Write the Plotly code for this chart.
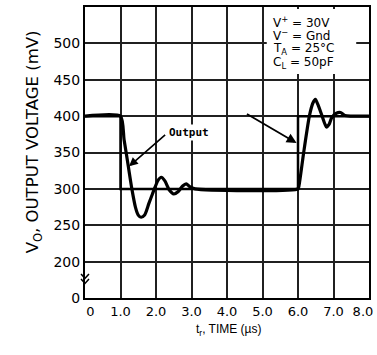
import plotly.graph_objects as go

# ---- data ----
input_t = [0, 1.0, 1.0, 6.0, 6.0, 8.0]
input_v = [400, 400, 300, 300, 400, 400]

output_t = [0, 1.0, 1.1, 1.22, 1.32, 1.42, 1.5, 1.58, 1.68, 1.8, 1.9, 1.97, 2.06, 2.15,
            2.25, 2.38, 2.5, 2.62, 2.75, 2.85, 2.95, 3.1, 6.0, 6.03, 6.16, 6.32, 6.42,
            6.49, 6.56, 6.68, 6.8, 6.88, 6.95, 7.08, 7.2, 7.32, 8.0]
output_v = [400, 400, 368, 331, 300, 275, 264, 261, 264, 280, 293, 302, 312, 316,
            311, 298, 293, 296, 304, 307, 303, 300, 300, 305, 350, 400, 418,
            423, 416, 400, 385, 389, 398, 404, 405, 401, 400]

x_tick_labels = ["0", "1.0", "2.0", "3.0", "4.0", "5.0", "6.0", "7.0", "8.0"]
y_tick_vals = [150, 200, 250, 300, 350, 400, 450, 500, 550]
y_tick_labels = ["0", "200", "250", "300", "350", "400", "450", "500", "550"]

conditions = ["V<sup>+</sup> = 30V", "V<sup>−</sup> = Gnd",
              "T<sub>A</sub> = 25°C", "C<sub>L</sub> = 50pF"]

# ---- figure ----
fig = go.Figure()
fig.add_trace(go.Scatter(x=input_t, y=input_v, mode="lines",
                         line=dict(color="black", width=2.5), hoverinfo="skip"))
fig.add_trace(go.Scatter(x=output_t, y=output_v, mode="lines",
                         line=dict(color="black", width=3.2, shape="spline", smoothing=0.6),
                         hoverinfo="skip"))

# tick label positions: integer grid, first/last nudged inward like the original
x_grid = list(range(len(x_tick_labels)))
x_tick_pos = [p + (0.15 if i == 0 else 0) - (0.17 if i == len(x_grid) - 1 else 0)
              for i, p in enumerate(x_grid)]

grid_col = "#202020"
fig.update_xaxes(range=[0, 8], tickvals=x_tick_pos, ticktext=x_tick_labels,
                 showgrid=False, ticks="", showline=True, mirror=True,
                 linecolor="black", linewidth=2, zeroline=False,
                 tickfont=dict(family="DejaVu Sans", size=13, color="black"),
                 minor=dict(tick0=0, dtick=1, showgrid=True, gridcolor=grid_col,
                            gridwidth=2, ticks=""))
fig.update_yaxes(range=[150, 550], tickvals=y_tick_vals, ticktext=y_tick_labels,
                 showgrid=True, gridcolor=grid_col, gridwidth=2,
                 ticks="", showline=True, mirror=True, linecolor="black", linewidth=2,
                 zeroline=False,
                 tickfont=dict(family="DejaVu Sans", size=14, color="black"))

anns = []
# axis titles
anns.append(dict(xref="paper", yref="paper", x=-0.226, y=0.536, showarrow=False,
                 textangle=-90, text="V<sub>O</sub>, OUTPUT VOLTAGE (mV)",
                 font=dict(family="DejaVu Sans", size=16.5, color="black")))
anns.append(dict(xref="paper", yref="paper", x=0.507, y=-0.144, showarrow=False,
                 text="t<sub>r</sub>, TIME (µs)",
                 font=dict(family="Liberation Sans", size=12, color="black")))
# condition lines
cond_y = [0.948, 0.903, 0.856, 0.808]
for txt, yy in zip(conditions, cond_y):
    anns.append(dict(xref="paper", yref="paper", x=0.655, y=yy, xanchor="left",
                     yanchor="middle", showarrow=False, text=txt,
                     font=dict(family="DejaVu Sans", size=12, color="black")))
# Output label + arrow
anns.append(dict(x=1.24, y=331, ax=2.3, ay=376, axref="x", ayref="y", text="",
                 showarrow=True, arrowhead=2, arrowsize=1.1, arrowwidth=1.6,
                 arrowcolor="black"))
anns.append(dict(x=2.32, y=377, xanchor="left", yanchor="middle", showarrow=False,
                 text="<b>Output</b>", bgcolor="white",
                 font=dict(family="DejaVu Sans Mono", size=11, color="black")))
# second arrow
anns.append(dict(x=5.96, y=363, ax=4.52, ay=404, axref="x", ayref="y", text="",
                 showarrow=True, arrowhead=2, arrowsize=1.1, arrowwidth=1.8,
                 arrowcolor="black"))

shapes = []
# white box behind conditions
shapes.append(dict(type="rect", xref="paper", yref="paper", x0=0.64, x1=0.955,
                   y0=0.77, y1=0.993, fillcolor="white", line=dict(width=0),
                   layer="above"))
# axis break marks
for yv in (180, 173):
    shapes.append(dict(type="path", xref="paper", yref="y",
                       path=f"M -0.014 {yv+3} L 0 {yv-3} L 0.014 {yv+3}",
                       line=dict(color="black", width=1.5)))

fig.update_layout(width=377, height=355, margin=dict(l=85, r=4, t=7, b=57),
                  paper_bgcolor="white", plot_bgcolor="white", showlegend=False,
                  annotations=anns, shapes=shapes)

fig.write_html("out.html", config={"displayModeBar": False},
               post_script="document.body.style.margin='0';document.body.style.padding='0';")
